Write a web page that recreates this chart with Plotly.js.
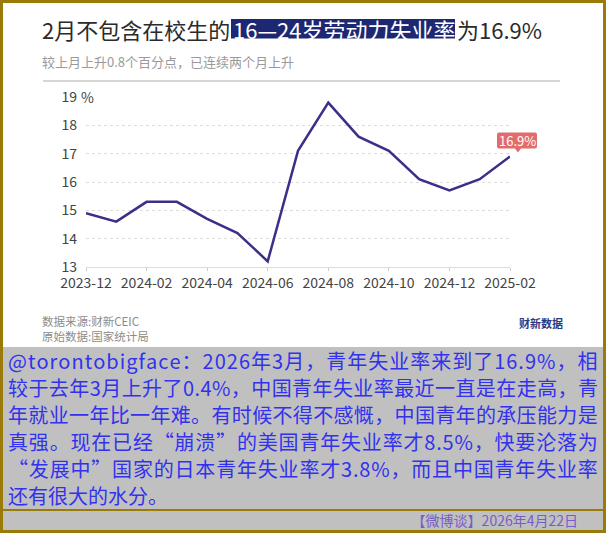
<!DOCTYPE html>
<html>
<head>
<meta charset="utf-8">
<script src="https://cdn.plot.ly/plotly-3.0.1.min.js"></script>
<style>
  html, body { margin:0; padding:0; width:606px; height:533px; overflow:hidden; background:#9a7b0a; }
  #frame { position:absolute; left:0; top:0; width:606px; height:533px; background:#9a7b0a; }
  #white { position:absolute; left:3px; top:3px; width:600px; height:344px; background:#ffffff; }
  #gray { position:absolute; left:3px; top:347px; width:600px; height:183px; background:#c0c0c0; }
  #goldline { position:absolute; left:3px; top:509px; width:600px; height:2px; background:#9a7b0a; }
  #chart { position:absolute; left:0; top:0; width:606px; height:533px; }
  #comment { position:absolute; left:8px; top:347px; width:590px; font-family:"Noto Sans CJK SC","Noto Sans",sans-serif; font-size:20px; color:#3232ee; }
  .line { display:flex; justify-content:space-between; height:27px; line-height:27px; white-space:pre; }
  .line.last { justify-content:flex-start; }
  #footer { position:absolute; right:28px; top:510px; height:20px; line-height:20px; font-family:"Noto Sans CJK SC","Noto Sans",sans-serif; font-size:14px; color:#7a5cc8; white-space:pre; }
</style>
</head>
<body>
<div id="frame"></div>
<div id="white"></div>
<div id="gray"></div>
<div id="goldline"></div>
<div id="chart"></div>
<div id="comment"></div>
<div id="footer"></div>
<script>
// ---- data ----
const months = ['2023-12','2024-01','2024-02','2024-03','2024-04','2024-05','2024-06','2024-07','2024-08','2024-09','2024-10','2024-11','2024-12','2025-01','2025-02'];
const rates = [14.9,14.6,15.3,15.3,14.7,14.2,13.2,17.1,18.8,17.6,17.1,16.1,15.7,16.1,16.9];
const xTickLabels = ['2023-12','2024-02','2024-04','2024-06','2024-08','2024-10','2024-12','2025-02'];
const yTicks = [13,14,15,16,17,18,19];
const yTickText = ['13','14','15','16','17','18','19'];
const yUnit = '%';
const titlePart1 = '2月不包含在校生的';
const titlePart2 = '16—24岁劳动力失业率';
const titlePart3 = '为16.9%';
const subtitle = '较上月上升0.8个百分点，已连续两个月上升';
const sourceLines = ['数据来源:财新CEIC', '原始数据:国家统计局'];
const logoText = '财新数据';
const commentLines = [
  '@torontobigface：2026年3月，青年失业率来到了16.9%，相',
  '较于去年3月上升了0.4%，中国青年失业率最近一直是在走高，青',
  '年就业一年比一年难。有时候不得不感慨，中国青年的承压能力是',
  '真强。现在已经“崩溃”的美国青年失业率才8.5%，快要沦落为',
  '“发展中”国家的日本青年失业率才3.8%，而且中国青年失业率',
  '还有很大的水分。'
];
const footerText = '【微博谈】2026年4月22日';

// ---- layout helpers (pixel -> paper) ----
const L = 86, T = 97, PW = 424, PH = 170;
const px = p => (p - L) / PW;
const py = p => (T + PH - p) / PH;
const FONT = '"Noto Sans CJK SC","Noto Sans",sans-serif';
const LABEL_RED = '#e26b6b';
const xRange = [0, months.length - 1];

const trace = {
  x: months, y: rates, type: 'scatter', mode: 'lines',
  line: { color: '#3b2f8a', width: 2.5 },
  hoverinfo: 'skip'
};

const last = rates.length - 1;
// paper-fraction position of the last category on the x axis (so the callout is not clipped)
const lastPaperX = (last - xRange[0]) / (xRange[1] - xRange[0]);

const annotations = [
  { xref:'paper', yref:'paper', x:px(40), y:py(29), xanchor:'left', yanchor:'middle', showarrow:false,
    text:titlePart1, font:{family:FONT, size:22, color:'#2b2b2b'} },
  { xref:'paper', yref:'paper', x:px(231), y:py(29), xanchor:'left', yanchor:'middle', showarrow:false,
    text:titlePart2, font:{family:FONT, size:22, color:'#ffffff'} },
  { xref:'paper', yref:'paper', x:px(455), y:py(29), xanchor:'left', yanchor:'middle', showarrow:false,
    text:titlePart3, font:{family:FONT, size:22, color:'#2b2b2b'} },
  { xref:'paper', yref:'paper', x:px(40), y:py(61), xanchor:'left', yanchor:'middle', showarrow:false,
    text:subtitle, font:{family:FONT, size:13, color:'#9a9a9a'} },
  { xref:'paper', yref:'paper', x:px(40), y:py(321), xanchor:'left', yanchor:'middle', showarrow:false,
    text:sourceLines[0], font:{family:FONT, size:11.5, color:'#8c8c8c'} },
  { xref:'paper', yref:'paper', x:px(40), y:py(336), xanchor:'left', yanchor:'middle', showarrow:false,
    text:sourceLines[1], font:{family:FONT, size:11.5, color:'#8c8c8c'} },
  { xref:'paper', yref:'paper', x:px(517), y:py(323), xanchor:'left', yanchor:'middle', showarrow:false,
    text:'<b>'+logoText+'</b>', font:{family:FONT, size:11, color:'#2b3a80'} },
  { xref:'paper', yref:'y', x:px(79), y:yTicks[yTicks.length-1], xanchor:'left', yanchor:'middle', showarrow:false,
    text:yUnit, font:{family:FONT, size:14, color:'#444444'} },
  { xref:'x', yref:'y', x:months[last], y:rates[last], xshift:7, yshift:16, showarrow:false,
    text:rates[last].toFixed(1)+'%', font:{family:FONT, size:13, color:'#ffffff'} }
];

const shapes = [
  { type:'rect', xref:'paper', yref:'paper', x0:px(231), x1:px(455), y0:py(38.5), y1:py(19), layer:'below',
    fillcolor:'#1e2872', line:{width:0} },
  { type:'line', xref:'paper', yref:'paper', x0:px(43), x1:px(560), y0:py(81), y1:py(81),
    line:{color:'#c8c8c8', width:1.5} },
  // rounded callout box with pointer, anchored on the last data point (pixel offsets)
  { type:'path', xref:'paper', yref:'y', xsizemode:'pixel', ysizemode:'pixel',
    xanchor:lastPaperX, yanchor:rates[last],
    path:'M -11 8 L 5 8 L 8 4 L 11 8 L 25 8 Q 27 8 27 10 L 27 22 Q 27 24 25 24 L -11 24 Q -13 24 -13 22 L -13 10 Q -13 8 -11 8 Z',
    fillcolor:LABEL_RED, line:{width:0}, layer:'above' }
];

const layout = {
  width:606, height:533,
  margin:{l:L, r:606-L-PW, t:T, b:533-T-PH, pad:0},
  paper_bgcolor:'rgba(0,0,0,0)', plot_bgcolor:'rgba(0,0,0,0)',
  showlegend:false,
  font:{family:FONT},
  xaxis:{
    type:'category', categoryorder:'array', categoryarray:months,
    range:xRange, tickmode:'array', tickvals:xTickLabels, ticktext:xTickLabels,
    ticks:'outside', ticklen:3, tickcolor:'#cccccc', tickwidth:1,
    showline:true, linecolor:'#dddddd', linewidth:1,
    showgrid:false, zeroline:false,
    tickfont:{family:FONT, size:14, color:'#444444'}, fixedrange:true
  },
  yaxis:{
    range:[13,19], tickmode:'array', tickvals:yTicks, ticktext:yTickText,
    showgrid:true, gridcolor:'#dddddd', griddash:'dot', gridwidth:1,
    zeroline:false, showline:false, ticks:'', ticklabelstandoff:8,
    tickfont:{family:FONT, size:14, color:'#444444'}, fixedrange:true
  },
  annotations:annotations,
  shapes:shapes
};

Plotly.newPlot('chart', [trace], layout, {staticPlot:true, displayModeBar:false});

// comment block: each line spread across full width (justified)
const comment = document.getElementById('comment');
commentLines.forEach((ln, i) => {
  const d = document.createElement('div');
  d.className = 'line' + (i === commentLines.length-1 ? ' last' : '');
  Array.from(ln).forEach(ch => {
    const s = document.createElement('span');
    s.textContent = ch;
    d.appendChild(s);
  });
  comment.appendChild(d);
});
document.getElementById('footer').textContent = footerText;
</script>
</body>
</html>
